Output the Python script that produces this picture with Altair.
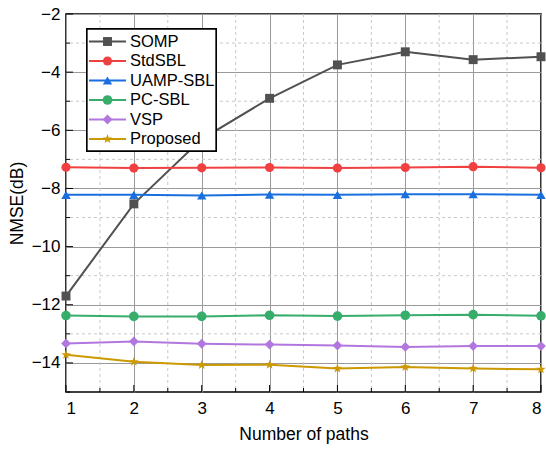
import altair as alt
import pandas as pd

paths = [1, 2, 3, 4, 5, 6, 7, 8]
series_names = ["SOMP", "StdSBL", "UAMP-SBL", "PC-SBL", "VSP", "Proposed"]
somp = [-11.7, -8.53, -6.3, -4.9, -3.75, -3.3, -3.57, -3.47]
stdsbl = [-7.27, -7.30, -7.29, -7.28, -7.30, -7.28, -7.25, -7.29]
uamp = [-8.22, -8.22, -8.24, -8.21, -8.22, -8.20, -8.20, -8.22]
pcsbl = [-12.37, -12.40, -12.40, -12.36, -12.39, -12.36, -12.34, -12.38]
vsp = [-13.33, -13.26, -13.34, -13.37, -13.40, -13.45, -13.42, -13.42]
proposed = [-13.72, -13.96, -14.07, -14.06, -14.19, -14.14, -14.19, -14.22]
colors = ["#515151", "#F14040", "#1A6FDF", "#37AD6B", "#B177DE", "#CC9900"]
star = "M0,-1L0.235,-0.324L0.951,-0.309L0.38,0.124L0.588,0.809L0,0.4L-0.588,0.809L-0.38,0.124L-0.951,-0.309L-0.235,-0.324Z"
shapes = ["square", "circle", "triangle-up", "circle", "diamond", star]
sizes = [80, 100, 100, 100, 100, 150]

x_major = [1, 2, 3, 4, 5, 6, 7, 8]
x_minor = [1.5, 2.5, 3.5, 4.5, 5.5, 6.5, 7.5]
y_major = [-14, -12, -10, -8, -6, -4, -2]
y_minor = [-15, -13, -11, -9, -7, -5, -3]

W, H = 475, 378
FONT = "Liberation Sans"

all_vals = [somp, stdsbl, uamp, pcsbl, vsp, proposed]
rows = []
for name, vals in zip(series_names, all_vals):
    for p, v in zip(paths, vals):
        rows.append({"paths": p, "nmse": v, "series": name})
df = pd.DataFrame(rows)

xs = alt.Scale(domain=[1, 8], nice=False, zero=False)
ys = alt.Scale(domain=[-15, -2], nice=False, zero=False)
cs = alt.Scale(domain=series_names, range=colors)
ss = alt.Scale(domain=series_names, range=shapes)
zs = alt.Scale(domain=series_names, range=sizes)

xaxis = alt.Axis(values=x_major, format="d", grid=True, gridColor="#9a9a9a", gridWidth=1,
                 ticks=False, domain=False, labelFontSize=17, labelFont=FONT,
                 labelColor="black", labelPadding=8, title="Number of paths",
                 titleFontSize=17.5, titleFont=FONT, titleFontWeight="normal",
                 titleColor="black", titlePadding=9)
yaxis = alt.Axis(values=y_major, format="d", grid=True, gridColor="#9a9a9a", gridWidth=1,
                 ticks=False, domain=False, labelFontSize=17, labelFont=FONT,
                 labelColor="black", labelPadding=6, title="NMSE(dB)",
                 titleFontSize=17.5, titleFont=FONT, titleFontWeight="normal",
                 titleColor="black", titlePadding=5)

base = alt.Chart(df)

minor_x = alt.Chart(pd.DataFrame({"v": x_minor})).mark_rule(
    color="#c8c8c8", strokeDash=[3, 3], strokeWidth=1
).encode(x=alt.X("v:Q", scale=xs, axis=xaxis))
minor_y = alt.Chart(pd.DataFrame({"v": y_minor[1:]})).mark_rule(
    color="#c8c8c8", strokeDash=[3, 3], strokeWidth=1
).encode(y=alt.Y("v:Q", scale=ys, axis=yaxis))

lines = base.mark_line(strokeWidth=2).encode(
    x=alt.X("paths:Q", scale=xs, axis=xaxis),
    y=alt.Y("nmse:Q", scale=ys, axis=yaxis),
    color=alt.Color("series:N", scale=cs, legend=None),
    detail="series:N",
)
points = base.mark_point(filled=True, opacity=1).encode(
    x=alt.X("paths:Q", scale=xs),
    y=alt.Y("nmse:Q", scale=ys),
    color=alt.Color("series:N", scale=cs, legend=None),
    shape=alt.Shape("series:N", scale=ss, legend=None),
    size=alt.Size("series:N", scale=zs, legend=None),
)

# inward ticks
tick_xmaj = alt.Chart(pd.DataFrame({"v": x_major})).mark_rule(color="black", strokeWidth=1).encode(
    x=alt.X("v:Q", scale=xs), y=alt.value(H), y2=alt.value(H - 7))
tick_xmin = alt.Chart(pd.DataFrame({"v": x_minor})).mark_rule(color="black", strokeWidth=1).encode(
    x=alt.X("v:Q", scale=xs), y=alt.value(H), y2=alt.value(H - 4))
tick_ymaj = alt.Chart(pd.DataFrame({"v": y_major})).mark_rule(color="black", strokeWidth=1).encode(
    y=alt.Y("v:Q", scale=ys), x=alt.value(0), x2=alt.value(7))
tick_ymin = alt.Chart(pd.DataFrame({"v": y_minor})).mark_rule(color="black", strokeWidth=1).encode(
    y=alt.Y("v:Q", scale=ys), x=alt.value(0), x2=alt.value(4))

main = alt.layer(minor_x, minor_y, lines, points, tick_xmaj, tick_xmin, tick_ymaj, tick_ymin)

# manual legend
leg_df = pd.DataFrame({"series": series_names, "idx": list(range(len(series_names)))})
ly = alt.Y("idx:Q", scale=alt.Scale(domain=[0, 5], range=[27.5, 125]), axis=None)
box = alt.Chart(leg_df).mark_rect(fill="white", stroke="black", strokeWidth=1.3).encode(
    x=alt.value(21), x2=alt.value(150), y=alt.value(15), y2=alt.value(137))
leg_lines = alt.Chart(leg_df).mark_rule(strokeWidth=2).encode(
    x=alt.value(23), x2=alt.value(60), y=ly,
    color=alt.Color("series:N", scale=cs, legend=None))
leg_pts = alt.Chart(leg_df).mark_point(filled=True, opacity=1).encode(
    x=alt.value(41.5), y=ly,
    color=alt.Color("series:N", scale=cs, legend=None),
    shape=alt.Shape("series:N", scale=ss, legend=None),
    size=alt.Size("series:N", scale=zs, legend=None))
leg_txt = alt.Chart(leg_df).mark_text(align="left", baseline="middle", fontSize=16.5,
                                      font=FONT, color="black").encode(
    x=alt.value(64), y=ly, text="series:N")
legend = alt.layer(box, leg_lines, leg_pts, leg_txt)

chart = alt.layer(main, legend).resolve_scale(y="independent").properties(
    width=W, height=H,
    autosize=alt.AutoSizeParams(type="none"),
    padding={"left": 66, "top": 14, "right": 5, "bottom": 57},
    background="white",
).configure_view(stroke="black", strokeWidth=1.6)

chart.save("out.html", embed_options={"renderer": "svg", "actions": False})
